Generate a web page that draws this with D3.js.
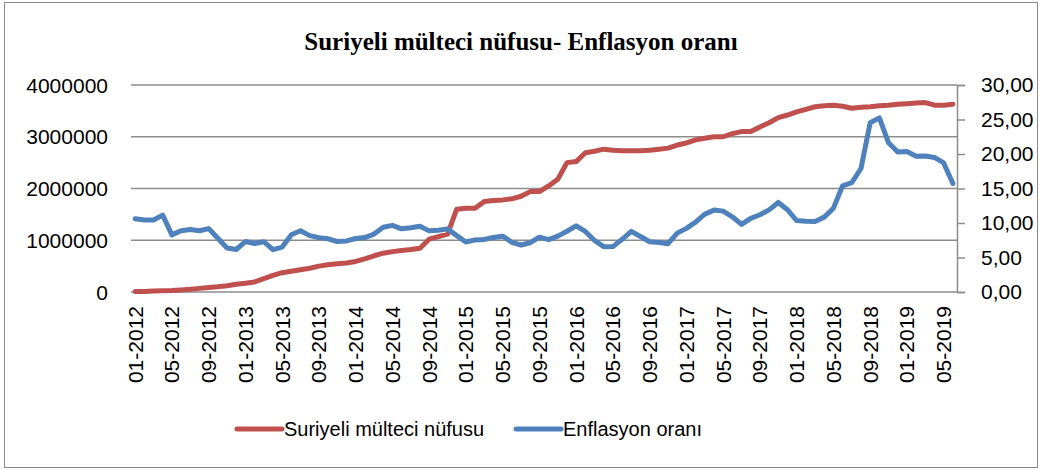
<!DOCTYPE html>
<html>
<head>
<meta charset="utf-8">
<script src="https://cdn.jsdelivr.net/npm/d3@7"></script>
<style>
  html, body { margin: 0; padding: 0; background: #fff; }
  svg { display: block; }
</style>
</head>
<body>
<svg id="chart" width="1041" height="470"></svg>
<script>
// Monthly categories 01-2012 .. 06-2019
const months = [];
for (let y = 2012; y <= 2019; y++) {
  for (let m = 1; m <= 12; m++) {
    if (y === 2019 && m > 6) break;
    months.push(String(m).padStart(2, '0') + '-' + y);
  }
}

// Suriyeli mülteci nüfusu (persons)
const refugees = [
  8000, 12000, 18000, 25000, 30000, 40000, 52000, 70000, 85000, 100000, 120000, 150000,
  170000, 195000, 260000, 320000, 373000, 400000, 430000, 460000, 500000, 525000, 545000, 560000,
  590000, 640000, 700000, 750000, 780000, 800000, 820000, 845000, 1020000, 1070000, 1120000, 1600000,
  1620000, 1620000, 1750000, 1770000, 1780000, 1800000, 1850000, 1940000, 1940000, 2050000, 2180000, 2500000,
  2520000, 2690000, 2720000, 2760000, 2740000, 2730000, 2730000, 2730000, 2740000, 2760000, 2780000, 2840000,
  2880000, 2940000, 2970000, 3000000, 3000000, 3060000, 3100000, 3100000, 3190000, 3270000, 3370000, 3420000,
  3480000, 3530000, 3580000, 3600000, 3610000, 3590000, 3550000, 3570000, 3580000, 3600000, 3610000, 3630000,
  3640000, 3650000, 3660000, 3610000, 3610000, 3630000
];

// Enflasyon oranı (%)
const inflation = [
  10.61, 10.43, 10.43, 11.14, 8.28, 8.87, 9.07, 8.88, 9.19, 7.80, 6.37, 6.16,
  7.31, 7.03, 7.29, 6.13, 6.51, 8.30, 8.88, 8.17, 7.88, 7.71, 7.32, 7.40,
  7.75, 7.89, 8.39, 9.38, 9.66, 9.16, 9.32, 9.54, 8.86, 8.96, 9.15, 8.17,
  7.24, 7.55, 7.61, 7.91, 8.09, 7.20, 6.81, 7.14, 7.95, 7.58, 8.10, 8.81,
  9.58, 8.78, 7.46, 6.57, 6.58, 7.64, 8.79, 8.05, 7.28, 7.16, 7.00, 8.53,
  9.22, 10.13, 11.29, 11.87, 11.72, 10.90, 9.79, 10.68, 11.20, 11.90, 12.98, 11.92,
  10.35, 10.26, 10.23, 10.85, 12.15, 15.39, 15.85, 17.90, 24.52, 25.24, 21.62, 20.30,
  20.35, 19.67, 19.71, 19.50, 18.71, 15.72
];

const leftTicks = [0, 1000000, 2000000, 3000000, 4000000];
const rightTicks = [0, 5, 10, 15, 20, 25, 30];
const tickLabels = months.filter((d, i) => i % 4 === 0);

const title = 'Suriyeli mülteci nüfusu- Enflasyon oranı';
const seriesNames = ['Suriyeli mülteci nüfusu', 'Enflasyon oranı'];
const colors = ['#C0504D', '#4F81BD'];

const svg = d3.select('#chart');
const plot = { left: 131, right: 957, top: 85, bottom: 292 };

// chart border
svg.append('rect')
  .attr('x', 4.5).attr('y', 2.5)
  .attr('width', 1033).attr('height', 465)
  .attr('fill', 'none')
  .attr('stroke', '#8a8a8a')
  .attr('stroke-width', 1);

const x = d3.scalePoint()
  .domain(months)
  .range([plot.left, plot.right])
  .padding(0.45);

const yLeft = d3.scaleLinear().domain([0, 4000000]).range([plot.bottom, plot.top]);
const yRight = d3.scaleLinear().domain([0, 30]).range([plot.bottom, plot.top]);

// gridlines
svg.append('g')
  .selectAll('line')
  .data(leftTicks)
  .join('line')
  .attr('x1', plot.left)
  .attr('x2', plot.right)
  .attr('y1', d => yLeft(d))
  .attr('y2', d => yLeft(d))
  .style('stroke', '#8c8c8c')
  .style('stroke-width', 1.5);

// left axis labels
svg.append('g')
  .selectAll('text')
  .data(leftTicks)
  .join('text')
  .attr('x', 108)
  .attr('y', d => yLeft(d))
  .attr('dy', '0.36em')
  .attr('text-anchor', 'end')
  .style('font-family', '"Liberation Sans", Arial, sans-serif')
  .style('font-size', '21px')
  .style('fill', '#000')
  .text(d => d);

// right axis
const rightAxis = svg.append('g')
  .attr('transform', `translate(${plot.right},0)`)
  .call(d3.axisRight(yRight)
    .tickValues(rightTicks)
    .tickSize(8)
    .tickPadding(16)
    .tickFormat(d => d3.format('.2f')(d).replace('.', ',')));

rightAxis.select('.domain').attr('stroke', '#8c8c8c').attr('stroke-width', 1.5);
rightAxis.selectAll('.tick line').attr('stroke', '#8c8c8c').attr('stroke-width', 1.5);
rightAxis.selectAll('.tick text')
  .attr('text-anchor', 'start')
  .style('font-family', '"Liberation Sans", Arial, sans-serif')
  .style('font-size', '21px')
  .style('fill', '#000');

// x labels (every 4th month, rotated)
svg.append('g')
  .selectAll('text')
  .data(tickLabels)
  .join('text')
  .attr('transform', d => `translate(${x(d)},306) rotate(-90)`)
  .attr('dy', '0.36em')
  .attr('text-anchor', 'end')
  .style('font-family', '"Liberation Sans", Arial, sans-serif')
  .style('font-size', '21px')
  .style('fill', '#000')
  .text(d => d);

// lines
const lineLeft = d3.line()
  .x((d, i) => x(months[i]))
  .y(d => yLeft(d));

const lineRight = d3.line()
  .x((d, i) => x(months[i]))
  .y(d => yRight(d));

svg.append('path')
  .datum(refugees)
  .attr('d', lineLeft)
  .attr('fill', 'none')
  .attr('stroke', colors[0])
  .attr('stroke-width', 5)
  .attr('stroke-linejoin', 'round')
  .attr('stroke-linecap', 'round');

svg.append('path')
  .datum(inflation)
  .attr('d', lineRight)
  .attr('fill', 'none')
  .attr('stroke', colors[1])
  .attr('stroke-width', 5)
  .attr('stroke-linejoin', 'round')
  .attr('stroke-linecap', 'round');

// title
svg.append('text')
  .attr('x', 521)
  .attr('y', 50)
  .attr('text-anchor', 'middle')
  .style('font-family', '"Liberation Serif", "Times New Roman", serif')
  .style('font-weight', 'bold')
  .style('font-size', '25px')
  .style('fill', '#000')
  .text(title);

// legend
const legendX = [237, 516];
const legend = svg.append('g')
  .selectAll('g')
  .data(seriesNames)
  .join('g')
  .attr('transform', (d, i) => `translate(${legendX[i]},429)`);

legend.append('line')
  .attr('x1', 0).attr('x2', 45)
  .attr('y1', 0).attr('y2', 0)
  .attr('stroke', (d, i) => colors[i])
  .attr('stroke-width', 5)
  .attr('stroke-linecap', 'round');

legend.append('text')
  .attr('x', 47)
  .attr('dy', '0.36em')
  .style('font-family', '"Liberation Sans", Arial, sans-serif')
  .style('font-size', '20px')
  .style('fill', '#000')
  .text(d => d);
</script>
</body>
</html>
